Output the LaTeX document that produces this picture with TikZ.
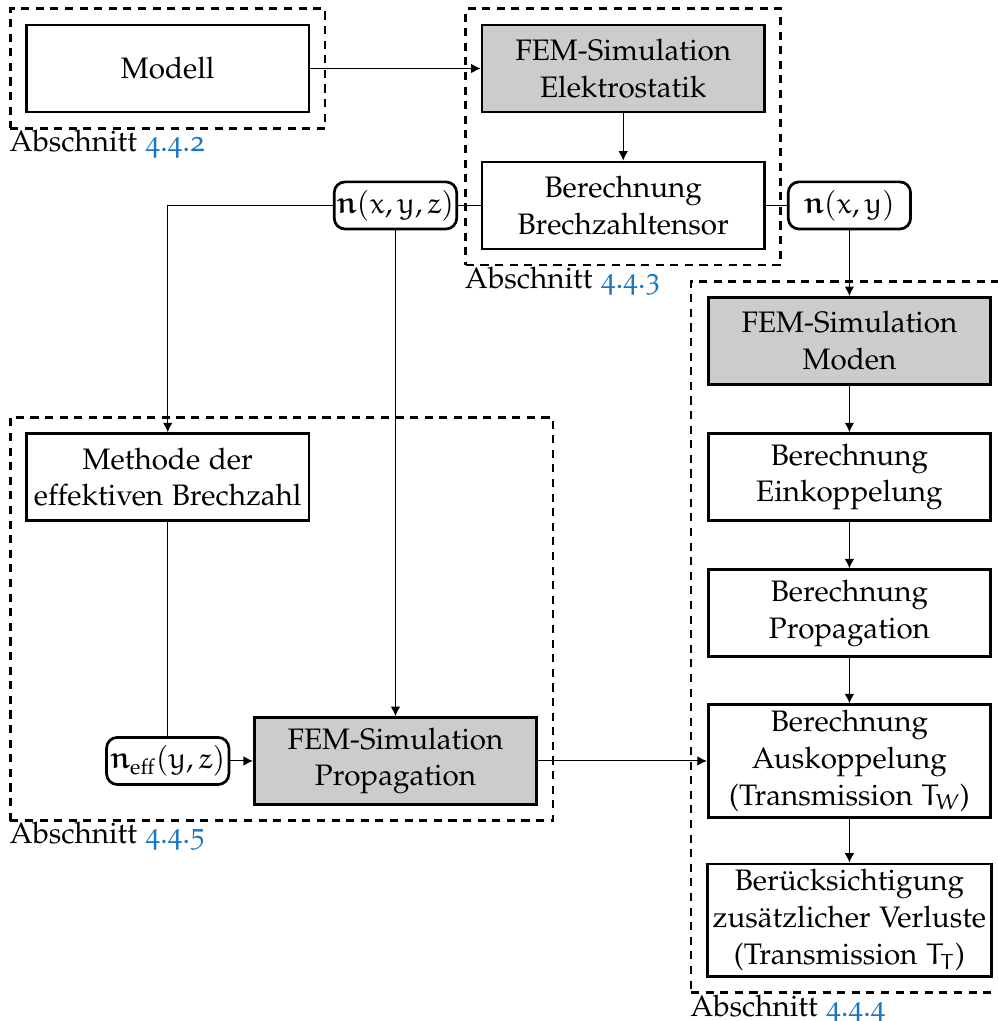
\documentclass[tikz,border=0pt,11pt]{standalone}
\usepackage[T1]{fontenc}
\usepackage[osf]{mathpazo}
\usepackage{amsmath}
\usetikzlibrary{arrows.meta,fit}
\DeclareMathAlphabet{\eurm}{U}{eur}{m}{n}
\DeclareMathAlphabet{\eurbold}{U}{eur}{b}{n}
\definecolor{secblue}{RGB}{25,118,194}

\begin{document}
\begin{tikzpicture}[block/.style={draw,line width=1pt,minimum width=3.67cm,minimum height=1.13cm,align=center,inner xsep=2pt,inner ysep=2pt},
femblock/.style={block,fill=black!20},
param/.style={draw,line width=1pt,rounded corners=4pt,inner xsep=1pt,inner ysep=3pt,minimum width=1.59cm,minimum height=0.6cm},
secframe/.style={draw,line width=1pt,dash pattern=on 3pt off 2.4pt,inner sep=5.5pt},
seclabel/.style={anchor=north west,inner xsep=0pt,inner ysep=0pt},
flow/.style={-{Latex[length=3.5pt,width=3.5pt]}}]
\useasboundingbox (0,0) rectangle (12.97,-13.27);
\clip (0,0) rectangle (12.97,-13.27);
\node[block] (modell) at (2.18,-0.89) {Modell};
\node[femblock] (elstat) at (8.10,-0.89) {FEM-Simulation\\Elektrostatik};
\node[block] (tensor) at (8.10,-2.67) {Berechnung\\Brechzahltensor};
\node[param] (nxyz) at (5.14,-2.67) {$\eurbold{n}(\eurm{x},\eurm{y},\eurm{z})$};
\node[param] (nxy) at (11.04,-2.67) {$\eurbold{n}(\eurm{x},\eurm{y})$};
\node[block] (methode) at (2.18,-6.20) {Methode der\\effektiven Brechzahl};
\node[param] (neff) at (2.18,-9.89) {$\eurbold{n}_{\text{eff}}(\eurm{y},\eurm{z})$};
\node[femblock] (femprop) at (5.14,-9.89) {FEM-Simulation\\Propagation};
\node[femblock] (moden) at (11.04,-4.43) {FEM-Simulation\\Moden};
\node[block] (einkop) at (11.04,-6.20) {Berechnung\\Einkoppelung};
\node[block] (prop) at (11.04,-7.97) {Berechnung\\Propagation};
\node[block] (auskop) at (11.04,-9.89) {Berechnung\\Auskoppelung\\(Transmission $\eurm{T}_{\eurm{W}}$)};
\node[block] (verlust) at (11.04,-11.96) {Berücksichtigung\\zusätzlicher Verluste\\(Transmission $\eurm{T}_{\eurm{T}}$)};
\node[secframe,fit=(modell)] (secmodell) {};
\node[secframe,fit=(elstat)(tensor)] (secelstat) {};
\node[secframe,fit=(methode)(neff)(femprop)] (secprop) {};
\node[secframe,fit=(moden)(verlust)] (secmoden) {};
\node[seclabel] (labmodell) at (secmodell.south west) {Abschnitt \textcolor{secblue}{4.4.2}};
\node[seclabel] (labelstat) at (secelstat.south west) {Abschnitt \textcolor{secblue}{4.4.3}};
\node[seclabel] (labprop) at (secprop.south west) {Abschnitt \textcolor{secblue}{4.4.5}};
\node[seclabel] (labmoden) at (secmoden.south west) {Abschnitt \textcolor{secblue}{4.4.4}};
\draw[flow] (modell)--(elstat);\draw[flow] (elstat)--(tensor);
\draw (tensor)--(nxyz);\draw (tensor)--(nxy);
\draw[flow] (nxyz.west)-|(methode.north);\draw[flow] (nxyz)--(femprop);
\draw (methode)--(neff);\draw[flow] (neff)--(femprop);\draw[flow] (femprop)--(auskop);
\draw[flow] (nxy)--(moden);\draw[flow] (moden)--(einkop);\draw[flow] (einkop)--(prop);
\draw[flow] (prop)--(auskop);\draw[flow] (auskop)--(verlust);
\end{tikzpicture}
\end{document}
